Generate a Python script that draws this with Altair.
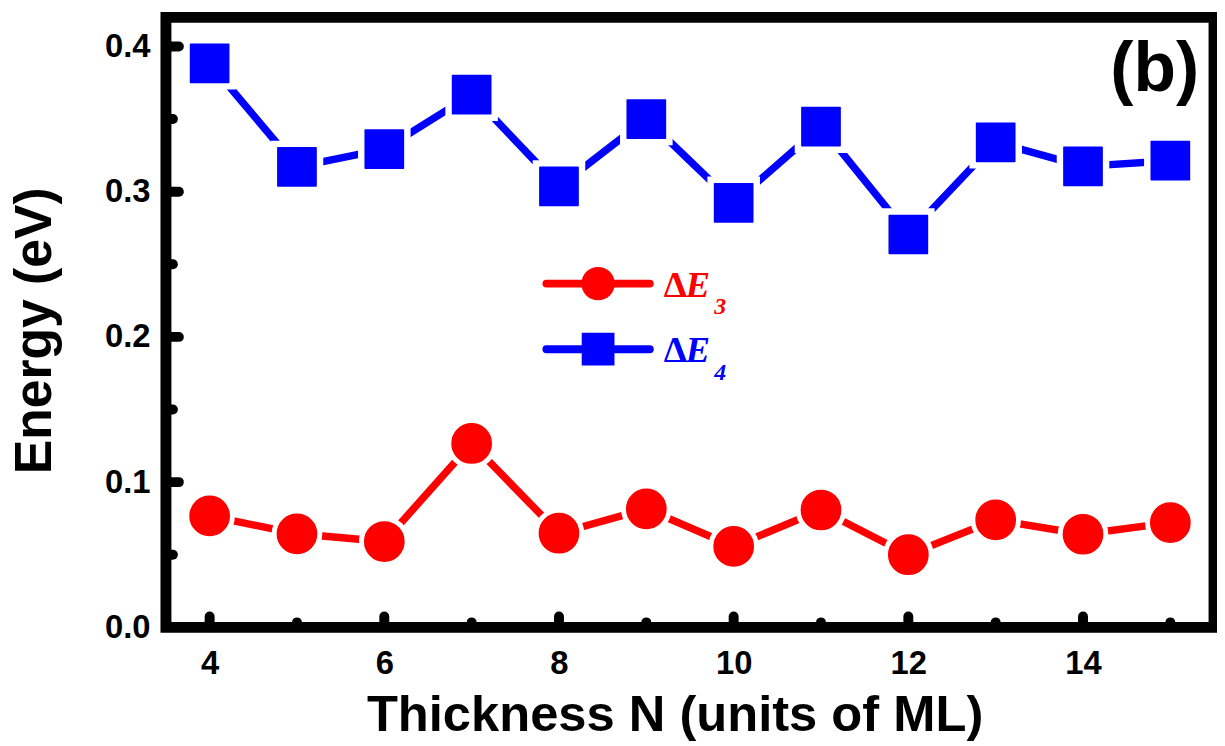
import altair as alt
import pandas as pd

# ---- data ----
thickness = [4, 5, 6, 7, 8, 9, 10, 11, 12, 13, 14, 15]
dE3 = [0.0767, 0.0644, 0.0591, 0.1266, 0.0648, 0.0816, 0.0557, 0.0808, 0.0500, 0.0740, 0.0641, 0.0721]
dE4 = [0.3884, 0.3170, 0.3293, 0.3668, 0.3036, 0.3500, 0.2923, 0.3448, 0.2705, 0.3340, 0.3174, 0.3213]

x_major = [4, 6, 8, 10, 12, 14]
x_minor = [5, 7, 9, 11, 13, 15]
y_major = [0.1, 0.2, 0.3, 0.4]
y_minor = [0.05, 0.15, 0.25, 0.35]
y_labels = [0.0, 0.1, 0.2, 0.3, 0.4]

series_names = ["ΔE3", "ΔE4"]
series_sub = ["3", "4"]
panel_label = "(b)"

RED = "#ff0000"
BLUE = "#0000ff"
W, H = 1055, 614
SANS = "Liberation Sans"
SERIF = "Liberation Serif"

df3 = pd.DataFrame({"N": thickness, "E": dE3})
df4 = pd.DataFrame({"N": thickness, "E": dE4})

x_scale = alt.Scale(domain=[3.5, 15.5], nice=False, zero=False)
y_scale = alt.Scale(domain=[0, 0.42], nice=False, zero=False)

x_axis = alt.Axis(
    values=x_major, format="d", title="Thickness N (units of ML)",
    domain=False, ticks=False, tickSize=0, grid=False,
    labelFont=SANS, labelFontSize=33, labelFontWeight="bold", labelColor="black",
    labelPadding=20,
    titleFont=SANS, titleFontSize=51, titleFontWeight="bold", titleColor="black",
    titleX=512, titleY=104, titleBaseline="alphabetic", titleAlign="center",
)
y_axis = alt.Axis(
    values=y_labels, format=".1f", title="Energy (eV)",
    domain=False, ticks=False, tickSize=0, grid=False,
    labelFont=SANS, labelFontSize=33, labelFontWeight="bold", labelColor="black",
    labelPadding=16,
    titleFont=SANS, titleFontSize=52, titleFontWeight="bold", titleColor="black",
    titleX=-116, titleY=315, titleAngle=-90, titleBaseline="alphabetic", titleAlign="center",
)

xe = alt.X("N:Q", scale=x_scale, axis=x_axis)
ye = alt.Y("E:Q", scale=y_scale, axis=y_axis)


def series(df, color, shape, size, halo):
    base = alt.Chart(df).encode(x=xe, y=ye)
    line = base.mark_line(color=color, strokeWidth=7.5, strokeCap="round", strokeJoin="round")
    gap = base.mark_point(shape=shape, filled=True, fill="white", stroke="white",
                          strokeWidth=0, opacity=1, size=halo)
    pts = base.mark_point(shape=shape, filled=True, fill=color, opacity=1, size=size,
                          stroke=color, strokeWidth=1.5, strokeJoin="round")
    return [line, gap, pts]


layers = []
layers += series(df3, RED, "circle", 1560, 2600)
layers += series(df4, BLUE, "square", 1480, 2800)

# inward ticks drawn through the scales
xmaj = alt.Chart(pd.DataFrame({"N": x_major})).mark_rule(
    color="black", strokeWidth=10, strokeCap="round").encode(
    x=alt.X("N:Q", scale=x_scale), y=alt.value(H), y2=alt.value(H - 11))
xmin = alt.Chart(pd.DataFrame({"N": x_minor})).mark_rule(
    color="black", strokeWidth=10, strokeCap="round").encode(
    x=alt.X("N:Q", scale=x_scale), y=alt.value(H), y2=alt.value(H - 5))
ymaj = alt.Chart(pd.DataFrame({"E": y_major})).mark_rule(
    color="black", strokeWidth=10, strokeCap="round").encode(
    y=alt.Y("E:Q", scale=y_scale), x=alt.value(0), x2=alt.value(13))
ymin = alt.Chart(pd.DataFrame({"E": y_minor})).mark_rule(
    color="black", strokeWidth=10, strokeCap="round").encode(
    y=alt.Y("E:Q", scale=y_scale), x=alt.value(0), x2=alt.value(7))
layers += [xmaj, xmin, ymaj, ymin]

# hand-built legend
leg_specs = [
    (series_names[0], series_sub[0], RED, "circle", 1134, 268),
    (series_names[1], series_sub[1], BLUE, "square", 1089, 334),
]
for name, sub, color, shape, sz, yy in leg_specs:
    one = pd.DataFrame({"name": [name]})
    c = alt.Chart(one)
    layers.append(c.mark_rule(color=color, strokeWidth=8, strokeCap="round").encode(
        x=alt.value(383), x2=alt.value(487), y=alt.value(yy)))
    layers.append(c.mark_point(shape=shape, filled=True, fill=color, opacity=1, size=sz).encode(
        x=alt.value(435), y=alt.value(yy)))
    layers.append(c.mark_text(text="Δ", font=SERIF, fontSize=37, fontWeight="bold",
                              color=color, align="left", baseline="alphabetic").encode(
        x=alt.value(501), y=alt.value(yy + 13)))
    layers.append(c.mark_text(text="E", font=SERIF, fontSize=37, fontWeight="bold",
                              fontStyle="italic", color=color, align="left",
                              baseline="alphabetic").encode(
        x=alt.value(523), y=alt.value(yy + 13)))
    layers.append(c.mark_text(text=sub, font=SERIF, fontSize=24, fontWeight="bold",
                              fontStyle="italic", color=color, align="left",
                              baseline="alphabetic").encode(
        x=alt.value(552), y=alt.value(yy + 31)))

# panel label
layers.append(alt.Chart(pd.DataFrame({"t": [panel_label]})).mark_text(
    font=SANS, fontSize=70, fontWeight="bold", color="black",
    align="right", baseline="alphabetic").encode(
    text="t:N", x=alt.value(1040), y=alt.value(74)))

chart = alt.layer(*layers).properties(
    width=W, height=H,
    autosize=alt.AutoSizeParams(type="none"),
    padding={"left": 159, "top": 7, "right": 3, "bottom": 118},
).configure(
    background="white"
).configure_view(
    stroke="black", strokeWidth=11, fill="white"
)

chart.save("out.html", embed_options={"renderer": "svg", "actions": False})
